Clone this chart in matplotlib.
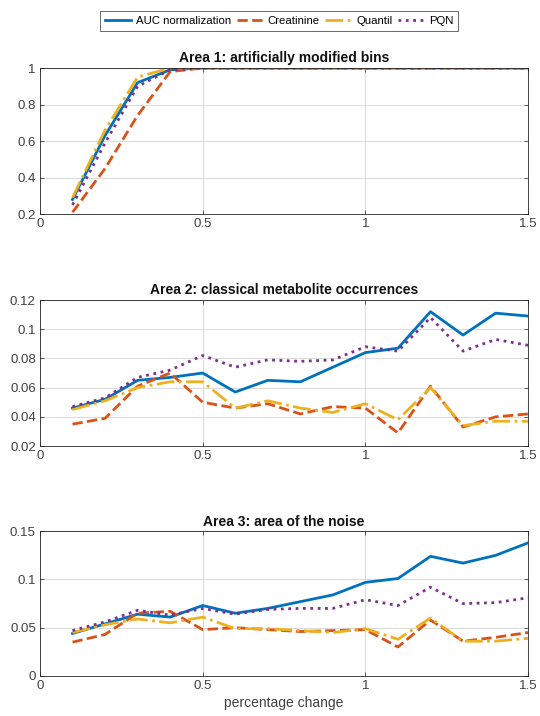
import matplotlib
matplotlib.use("Agg")
import matplotlib.pyplot as plt
from matplotlib.ticker import FuncFormatter

plt.rcParams['font.family'] = ['Liberation Sans', 'DejaVu Sans']

x = [0.1, 0.2, 0.3, 0.4, 0.5, 0.6, 0.7, 0.8, 0.9, 1.0, 1.1, 1.2, 1.3, 1.4, 1.5]

# Area 1: artificially modified bins
a1_auc = [0.28, 0.63, 0.92, 0.99, 1, 1, 1, 1, 1, 1, 1, 1, 1, 1, 1]
a1_crea = [0.21, 0.45, 0.74, 0.98, 1, 1, 1, 1, 1, 1, 1, 1, 1, 1, 1]
a1_quant = [0.29, 0.66, 0.95, 1.0, 1, 1, 1, 1, 1, 1, 1, 1, 1, 1, 1]
a1_pqn = [0.25, 0.59, 0.90, 0.99, 1, 1, 1, 1, 1, 1, 1, 1, 1, 1, 1]

# Area 2: classical metabolite occurrences
a2_auc = [0.046, 0.052, 0.065, 0.067, 0.070, 0.057, 0.065, 0.064, 0.074, 0.084,
          0.087, 0.112, 0.096, 0.111, 0.109]
a2_crea = [0.035, 0.039, 0.061, 0.070, 0.050, 0.046, 0.049, 0.042, 0.047, 0.046,
           0.029, 0.061, 0.033, 0.040, 0.042]
a2_quant = [0.045, 0.051, 0.060, 0.064, 0.064, 0.046, 0.051, 0.046, 0.043, 0.049,
            0.038, 0.060, 0.034, 0.037, 0.037]
a2_pqn = [0.047, 0.053, 0.067, 0.072, 0.082, 0.074, 0.079, 0.078, 0.079, 0.088,
          0.085, 0.108, 0.085, 0.093, 0.089]

# Area 3: area of the noise
a3_auc = [0.044, 0.054, 0.064, 0.061, 0.073, 0.065, 0.070, 0.077, 0.084, 0.097,
          0.101, 0.124, 0.117, 0.125, 0.138]
a3_crea = [0.035, 0.043, 0.065, 0.067, 0.048, 0.050, 0.048, 0.046, 0.047, 0.048,
           0.030, 0.058, 0.036, 0.040, 0.045]
a3_quant = [0.045, 0.053, 0.059, 0.055, 0.061, 0.049, 0.049, 0.047, 0.045, 0.049,
            0.038, 0.060, 0.036, 0.036, 0.039]
a3_pqn = [0.047, 0.056, 0.068, 0.063, 0.070, 0.064, 0.069, 0.070, 0.070, 0.079,
          0.073, 0.092, 0.075, 0.076, 0.081]

labels = ['AUC normalization', 'Creatinine', 'Quantil', 'PQN']
colors = ['#0072BD', '#D95319', '#EDB120', '#7E2F8E']
styles = ['-', '--', '-.', ':']

panels = [
    ('Area 1: artificially modified bins', [a1_auc, a1_crea, a1_quant, a1_pqn],
     (0.2, 1), [0.2, 0.4, 0.6, 0.8, 1]),
    ('Area 2: classical metabolite occurrences', [a2_auc, a2_crea, a2_quant, a2_pqn],
     (0.02, 0.12), [0.02, 0.04, 0.06, 0.08, 0.1, 0.12]),
    ('Area 3: area of the noise', [a3_auc, a3_crea, a3_quant, a3_pqn],
     (0, 0.15), [0, 0.05, 0.1, 0.15]),
]

fig = plt.figure(figsize=(5.4, 7.16), dpi=100)
boxes = [(0.074, 0.701, 0.904, 0.204),
         (0.074, 0.377, 0.904, 0.204),
         (0.074, 0.056, 0.904, 0.202)]

gfmt = FuncFormatter(lambda v, p: ('%g' % round(v, 6)))

for (title, series, ylim, yt), box in zip(panels, boxes):
    ax = fig.add_axes(box)
    for ys, c, ls, lab in zip(series, colors, styles, labels):
        ax.plot(x, ys, color=c, linestyle=ls, linewidth=2, label=lab)
    ax.set_xlim(0, 1.5)
    ax.set_ylim(*ylim)
    ax.set_xticks([0, 0.5, 1, 1.5])
    ax.set_yticks(yt)
    ax.xaxis.set_major_formatter(gfmt)
    ax.yaxis.set_major_formatter(gfmt)
    ax.grid(True, color='#dcdcdc', linewidth=0.8)
    ax.set_axisbelow(True)
    ax.tick_params(direction='in', top=True, right=True, labelsize=9.5,
                   colors='#404040', length=3, width=0.6, pad=3)
    for sp in ax.spines.values():
        sp.set_color('#262626')
        sp.set_linewidth(0.6)
    ax.set_title(title, fontsize=10, fontweight='bold', pad=4, color='#111111')

ax.set_xlabel('percentage change', fontsize=10, color='#404040', labelpad=3)

handles, labs = ax.get_legend_handles_labels()
leg = fig.legend(handles, labs, loc='upper center', bbox_to_anchor=(0.517, 0.985),
                 ncol=4, fontsize=8.2, frameon=True, fancybox=False,
                 handlelength=2.3, handletextpad=0.4, columnspacing=0.5,
                 borderpad=0.45, borderaxespad=0)
leg.get_frame().set_edgecolor('#262626')
leg.get_frame().set_linewidth(0.6)

fig.savefig('out.png', dpi=100)
